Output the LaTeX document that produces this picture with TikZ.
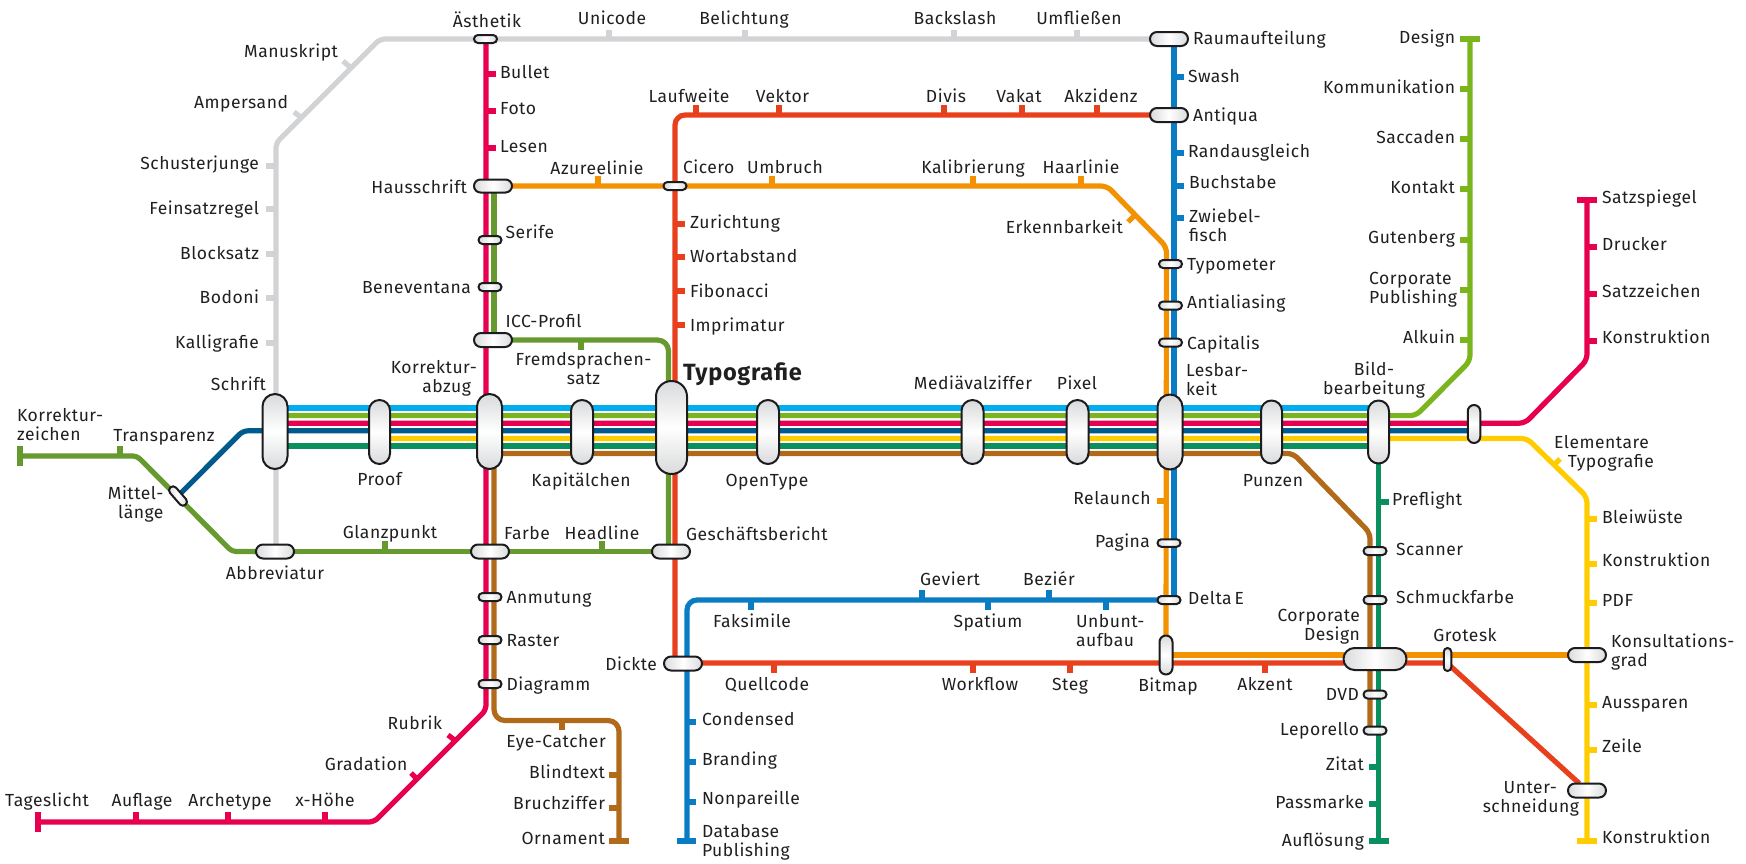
\documentclass[tikz,border=0pt]{standalone}
\usepackage{fontspec}
\setmainfont[LetterSpace=3.0]{Fira Sans}
\usetikzlibrary{backgrounds,calc}
\definecolor{cCy}{HTML}{00AEEF}
\definecolor{cLg}{HTML}{7AB51D}
\definecolor{cMa}{HTML}{E6004F}
\definecolor{cNa}{HTML}{005A8C}
\definecolor{cYe}{HTML}{FFCC00}
\definecolor{cTe}{HTML}{0A8F5F}
\definecolor{cBr}{HTML}{B06A1A}
\definecolor{cGy}{HTML}{D2D3D5}
\definecolor{cDg}{HTML}{66992E}
\definecolor{cRe}{HTML}{E8401C}
\definecolor{cOr}{HTML}{F39200}
\definecolor{cBl}{HTML}{0A7CC4}
\definecolor{cSt}{HTML}{1C1C20}
\definecolor{cSh}{HTML}{D9DADB}
\tikzset{
 ml/.style={line width=5.2pt,line join=round},
 lCy/.style={ml,draw=cCy},lLg/.style={ml,draw=cLg},lMa/.style={ml,draw=cMa},
 lNa/.style={ml,draw=cNa},lYe/.style={ml,draw=cYe},lTe/.style={ml,draw=cTe},
 lBr/.style={ml,draw=cBr},lGy/.style={ml,draw=cGy},lDg/.style={ml,draw=cDg},
 lRe/.style={ml,draw=cRe},lOr/.style={ml,draw=cOr},lBl/.style={ml,draw=cBl},
 stn/.style={draw=cSt,line width=2pt,inner sep=0pt,outer sep=0pt},
 lbl/.style={inner sep=0pt,outer sep=0pt,font=\fontsize{17.5}{19}\selectfont,text=black!88},
}
\newcounter{labc}
\newcommand{\LW}[3]{\stepcounter{labc}\node[lbl,anchor=base west] (lab\thelabc) at (#1,#2) {#3};}
\newcommand{\LE}[3]{\stepcounter{labc}\node[lbl,anchor=base east] (lab\thelabc) at (#1,#2) {#3};}
\newcommand{\LC}[3]{\stepcounter{labc}\node[lbl,anchor=base] (lab\thelabc) at (#1,#2) {#3};}
\newcommand{\MW}[3]{\stepcounter{labc}\node[lbl,anchor=west,align=left] (lab\thelabc) at (#1,#2) {#3};}
\newcommand{\ME}[3]{\stepcounter{labc}\node[lbl,anchor=east,align=right] (lab\thelabc) at (#1,#2) {#3};}
\newcommand{\MC}[3]{\stepcounter{labc}\node[lbl,anchor=center,align=center] (lab\thelabc) at (#1,#2) {#3};}
% station: name, cx, cy, outer w, outer h
\newcommand{\ST}[5]{%
 \pgfmathsetmacro{\stw}{#4-2}\pgfmathsetmacro{\sth}{#5-2}%
 \pgfmathsetmacro{\str}{min(\stw,\sth)/2-0.02}%
 \ifdim #4pt>#5pt
  \node[stn,minimum width=\stw pt,minimum height=\sth pt,rounded corners=\str pt,left color=cSh,right color=cSh,middle color=white] (#1) at (#2,#3) {};
 \else
  \node[stn,minimum width=\stw pt,minimum height=\sth pt,rounded corners=\str pt,top color=cSh,bottom color=cSh,middle color=white] (#1) at (#2,#3) {};
 \fi}
\newcommand{\TK}[5]{\draw[#1] (#2,#3) -- (#4,#5);}
\begin{document}
\begin{tikzpicture}[x=1pt,y=-1pt]
\useasboundingbox (0,0) rectangle (1746,863);
% ---------- stations
\ST{aes}{485.5}{39}{25}{10}
\ST{rau}{1169}{39}{40}{16}
\ST{ant}{1169}{115}{40}{16}
\ST{hau}{493}{186}{40}{15}
\ST{cic}{675}{186}{25}{10}
\ST{ser}{490}{240}{25}{10}
\ST{ben}{490}{287}{25}{10}
\ST{icc}{493}{340}{40}{16}
\ST{typo}{1170.5}{264}{25}{10}
\ST{ali}{1170.5}{305.5}{25}{10}
\ST{cap}{1170.5}{342.5}{25}{10}
\ST{sch}{275}{431.5}{27}{77}
\ST{prf}{379.5}{432}{23}{66}
\ST{kor}{489.5}{431.5}{27}{77}
\ST{kap}{582}{432}{24}{66}
\ST{tyg}{671.5}{427.5}{33}{95}
\ST{opt}{768}{432}{24}{66}
\ST{med}{972.5}{432}{24}{66}
\ST{pix}{1077.5}{432}{24}{66}
\ST{les}{1170}{432}{27}{77}
\ST{pun}{1271.5}{432}{23}{65}
\ST{bil}{1378.5}{432}{23}{65}
\ST{sma}{1474}{424}{14.5}{40}
\stepcounter{labc}\node[stn,minimum width=23pt,minimum height=8pt,rounded corners=3.9pt,rotate=-49,left color=cSh,right color=cSh,middle color=white] (mit) at (178,496) {};
\ST{abb}{275}{551.5}{40}{16}
\ST{far}{490}{551.5}{40}{16}
\ST{ges}{671}{551.5}{40}{16}
\ST{anm}{490}{597}{25}{10}
\ST{ras}{490}{640}{25}{10}
\ST{dia}{490}{684}{25}{10}
\ST{pag}{1169}{543}{25}{9.5}
\ST{del}{1169}{600}{25}{10}
\ST{dic}{683}{663.5}{40}{16}
\ST{bit}{1166}{655}{15}{41}
\ST{cor}{1375}{659}{65}{24}
\ST{gro}{1447.5}{659.5}{9.5}{25}
\ST{sca}{1375}{551}{25}{10}
\ST{smf}{1375}{600}{25}{10}
\ST{dvd}{1375}{694.5}{25}{10}
\ST{lep}{1375}{730.5}{25}{10}
\ST{kon}{1587}{655}{40}{16}
\ST{unt}{1587}{790.5}{40}{16}
% ---------- lines
\begin{scope}[on background layer]
\coordinate (yCy) at (0,408);\coordinate (yLg) at (0,415.6);\coordinate (yMa) at (0,423.2);
\coordinate (yNa) at (0,430.8);\coordinate (yYe) at (0,438.4);\coordinate (yTe) at (0,446);\coordinate (yBr) at (0,453.4);
% bundle
\draw[lCy] (sch |- yCy) -- (bil |- yCy);
\coordinate (g1) at (1416,415.6);\coordinate (g2) at (1470,361);\coordinate (g3) at (1470,39);
\draw[lLg,rounded corners=6pt] (sch |- yLg) -- (g1) -- (g2) -- (g3);
\coordinate (h1) at (1525,423.2);\coordinate (h2) at (1587,360);\coordinate (h3) at (1587,200);
\draw[lMa,rounded corners=6pt] (sch |- yMa) -- (h1) -- (h2) -- (h3);
\coordinate (n1) at (178,496);\coordinate (n2) at (243,430.8);
\draw[lNa,rounded corners=5pt] (mit) -- (n2) -- (sma |- yNa);
\coordinate (e1) at (1527,438.4);\coordinate (e2) at (1587,497);\coordinate (e3) at (1587,841);
\draw[lYe,rounded corners=6pt] (prf |- yYe) -- (e1) -- (e2) -- (e3);
\coordinate (t1) at (1378.5,841);
\draw[lTe] (sch |- yTe) -- (bil |- yTe);
\draw[lTe] (bil) -- (t1);
\coordinate (b1) at (1293,453.4);\coordinate (b2) at (1370,533);\coordinate (b3) at (1370,730);
\draw[lBr,rounded corners=6pt] (kor |- yBr) -- (b1) -- (b2) -- (b3);
% grey
\coordinate (a1) at (276,143);\coordinate (a2) at (380,39);
\draw[lGy,rounded corners=5pt] (abb.north -| a1) -- (a1) -- (a2) -- (rau);
% magenta left
\coordinate (m1) at (486,710);\coordinate (m2) at (374,822);\coordinate (m3) at (38,822);
\draw[lMa,rounded corners=5pt] (aes -| m1) -- (m1) -- (m2) -- (m3);
% dark green
\coordinate (d1) at (20,456);\coordinate (d2) at (137,456);\coordinate (d3) at (232,551.5);
\draw[lDg,rounded corners=4pt] (d1) -- (d2) -- (d3) -- (abb);
\draw[lDg] (abb) -- (far) -- (ges);
\coordinate (d4) at (668.5,340);\coordinate (d5) at (494,340);\coordinate (d6) at (494,186);
\draw[lDg,rounded corners=11pt] (ges -| d4) -- (d4) -- (d5);
\draw[lDg] (d5) -- (d6);
% brown lower
\coordinate (r1) at (494,720.5);\coordinate (r2) at (619,720.5);\coordinate (r3) at (619,841);
\draw[lBr,rounded corners=11pt] (kor -| r1) -- (r1) -- (r2) -- (r3);
% orange
\coordinate (o1) at (1107,186);\coordinate (o2) at (1166.5,247);
\draw[lOr,rounded corners=6pt] (hau) -- (o1) -- (o2) -- (bit.center);
\coordinate (o3) at (1166,655);
\draw[lOr] (o3) -- (kon);
% red
\coordinate (c1) at (675,115);\coordinate (c2) at (675,663);\coordinate (c3) at (1447,663);
\draw[lRe,rounded corners=10pt] (ant) -- (c1) -- (c2);
\draw[lRe] (c2) -- (c3) -- (unt);
% blue
\coordinate (f1) at (1174,600);\coordinate (f2) at (687,600);\coordinate (f3) at (687,841);
\draw[lBl] (rau -| f1) -- (f1);
\draw[lBl,rounded corners=10pt] (f1) -- (f2) -- (f3);
% end caps
\draw[lDg] ($(d1)+(0,-10)$) -- ($(d1)+(0,10)$);
\draw[lMa] ($(m3)+(0,-10)$) -- ($(m3)+(0,10)$);
\draw[lBr] ($(r3)+(-10,0)$) -- ($(r3)+(10,0)$);
\draw[lBl] ($(f3)+(-10,0)$) -- ($(f3)+(9,0)$);
\draw[lTe] ($(t1)+(-10,0)$) -- ($(t1)+(10,0)$);
\draw[lYe] ($(e3)+(-10,0)$) -- ($(e3)+(10,0)$);
\draw[lLg] ($(g3)+(-10,0)$) -- ($(g3)+(10,0)$);
\draw[lMa] ($(h3)+(-10,0)$) -- ($(h3)+(10,0)$);
% ticks grey
\foreach \y in {166,209,254,298,343} {\TK{lGy}{266}{\y}{276}{\y}}
\foreach \x in {609,745,954,1077} {\TK{lGy}{\x}{30}{\x}{39}}
\TK{lGy}{343}{61}{351}{68}
\TK{lGy}{294}{112}{302}{118}
% ticks magenta left
\foreach \y in {74,111,148} {\TK{lMa}{486}{\y}{496}{\y}}
\foreach \x in {136,228,325} {\TK{lMa}{\x}{812}{\x}{822}}
\TK{lMa}{448}{735}{457}{742}
\TK{lMa}{411}{773}{418}{780}
% dark green
\TK{lDg}{120}{446}{120}{456}
\TK{lDg}{385}{541}{385}{551}
\TK{lDg}{602}{541}{602}{551}
\TK{lDg}{581}{340}{581}{350}
% orange
\foreach \x in {598,772,973,1081} {\TK{lOr}{\x}{176}{\x}{186}}
\TK{lOr}{1128}{222}{1135}{215}
\TK{lOr}{1157}{501}{1166}{501}
% red
\foreach \x in {696,779,944,1022,1097} {\TK{lRe}{\x}{105}{\x}{115}}
\foreach \y in {224,257,291,325} {\TK{lRe}{675}{\y}{685}{\y}}
\foreach \x in {774,973,1070,1265} {\TK{lRe}{\x}{663}{\x}{673}}
% blue
\foreach \y in {77,153,186,218} {\TK{lBl}{1174}{\y}{1184}{\y}}
\foreach \x in {922,1049} {\TK{lBl}{\x}{590}{\x}{600}}
\foreach \x in {751,988,1106} {\TK{lBl}{\x}{600}{\x}{610}}
\foreach \y in {722,762,802} {\TK{lBl}{687}{\y}{696}{\y}}
% brown
\TK{lBr}{562}{720}{562}{730}
\foreach \y in {775,808} {\TK{lBr}{609}{\y}{619}{\y}}
% light green
\foreach \y in {89,139,189,240,290,340} {\TK{lLg}{1460}{\y}{1470}{\y}}
% magenta right
\foreach \y in {247,294,341} {\TK{lMa}{1587}{\y}{1597}{\y}}
% teal
\TK{lTe}{1378}{502}{1389}{502}
\foreach \y in {767,804} {\TK{lTe}{1369}{\y}{1378}{\y}}
% yellow
\foreach \y in {519,564,603,705,750} {\TK{lYe}{1587}{\y}{1597}{\y}}
\TK{lYe}{1553}{466}{1560}{459}
\end{scope}
% ---------- labels
\LC{487}{27}{Ästhetik}
\LC{612}{24}{Unicode}
\LC{744}{24}{Belichtung}
\LC{955}{24}{Backslash}
\LC{1079}{24}{Umfließen}
\LW{1193}{44}{Raumaufteilung}
\LE{338}{57}{Manuskript}
\LE{288}{108}{Ampersand}
\LE{259}{169}{Schusterjunge}
\LE{259}{214}{Feinsatzregel}
\LE{259}{259}{Blocksatz}
\LE{259}{303}{Bodoni}
\LE{259}{348}{Kalligrafie}
\LE{266}{390}{Schrift}
\MW{17}{425}{Korrektur-\\zeichen}
\LC{164}{441}{Transparenz}
\ME{163.5}{504}{Mittel-\\länge}
\LC{379.5}{485}{Proof}
\LC{275}{579}{Abbreviatur}
\LC{390}{538}{Glanzpunkt}
\LW{504}{539}{Farbe}
\LC{602}{539}{Headline}
\LW{686}{540}{Geschäftsbericht}
\LC{581}{486}{Kapitälchen}
\LC{767}{486}{OpenType}
\ME{477}{378}{Korrektur-\\abzug\hspace*{6pt}}
\LW{505.5}{327}{ICC-Profil}
\MC{583.5}{369}{Fremdsprachen-\\satz}
\stepcounter{labc}\node[lbl,anchor=base west,font=\fontsize{23.5}{25}\selectfont\bfseries] (lab\thelabc) at (683,380) {Typografie};
\LC{973}{389}{Mediävalziffer}
\LC{1077}{389}{Pixel}
\MW{1186}{380}{Lesbar-\\keit}
\MC{1374}{380}{Bild-\\bearbeitung}
\LC{1273}{486}{Punzen}
\LE{1150.5}{504}{Relaunch}
\LE{1150}{547}{Pagina}
\LW{1188}{604}{Delta\,E}
\LW{1392}{505}{Preflight}
\LW{1396}{555}{Scanner}
\LW{1396}{603}{Schmuckfarbe}
\ME{1360}{627}{Corporate\\Design}
\LC{1465}{641}{Grotesk}
\LC{1168}{691}{Bitmap}
\LC{1265}{690}{Akzent}
\LE{1359}{700}{DVD}
\LE{1359}{735}{Leporello}
\LE{1364}{770}{Zitat}
\LE{1364}{808}{Passmarke}
\LE{1364}{846}{Auflösung}
\MW{1611}{652}{Konsultations-\\grad}
\ME{1654}{453}{Elementare\hspace*{5pt}\\Typografie}
\LW{1602}{523}{Bleiwüste}
\LW{1602}{566}{Konstruktion}
\LW{1602}{606}{PDF}
\LW{1602}{708}{Aussparen}
\LW{1602}{752}{Zeile}
\LW{1602}{843}{Konstruktion}
\ME{1579}{798.5}{Unter-\hspace*{22pt}\\schneidung}
\LW{1602}{203}{Satzspiegel}
\LW{1602}{250}{Drucker}
\LW{1602}{297}{Satzzeichen}
\LW{1602}{343}{Konstruktion}
\LE{1455}{43}{Design}
\LE{1455}{93}{Kommunikation}
\LE{1455}{143}{Saccaden}
\LE{1455}{193}{Kontakt}
\LE{1455}{243}{Gutenberg}
\stepcounter{labc}\node[lbl,anchor=east,align=left] (lab\thelabc) at (1457,290) {Corporate\\Publishing};
\LE{1455}{343}{Alkuin}
\LC{689}{102}{Laufweite}
\LC{782.5}{102}{Vektor}
\LC{946}{102}{Divis}
\LC{1019}{102}{Vakat}
\LC{1101}{102}{Akzidenz}
\LW{683}{173}{Cicero}
\LC{785}{173}{Umbruch}
\LC{973}{173}{Kalibrierung}
\LC{1081}{173}{Haarlinie}
\LC{597}{174}{Azureelinie}
\LW{500}{78}{Bullet}
\LW{500}{114}{Foto}
\LW{500}{152}{Lesen}
\LE{467}{193}{Hausschrift}
\LW{505.5}{238}{Serife}
\LE{471}{293}{Beneventana}
\LW{506.5}{603}{Anmutung}
\LW{506.5}{646}{Raster}
\LW{506.5}{690}{Diagramm}
\LE{442}{729}{Rubrik}
\LE{407.5}{770}{Gradation}
\LC{47}{806}{Tageslicht}
\LC{142}{806}{Auflage}
\LC{230}{806}{Archetype}
\LC{325}{806}{x-Höhe}
\LC{556}{747}{Eye-Catcher}
\LE{605}{778}{Blindtext}
\LE{605}{809}{Bruchziffer}
\LE{605}{844}{Ornament}
\LW{690}{228}{Zurichtung}
\LW{690}{262}{Wortabstand}
\LW{690}{297}{Fibonacci}
\LW{690}{331}{Imprimatur}
\LE{1123}{233}{Erkennbarkeit}
\LW{1188}{82}{Swash}
\LW{1193}{121}{Antiqua}
\LW{1188}{157}{Randausgleich}
\LW{1189}{188}{Buchstabe}
\MW{1189}{225}{Zwiebel-\\fisch}
\LW{1187}{270}{Typometer}
\LW{1187}{308}{Antialiasing}
\LW{1187}{349}{Capitalis}
\LC{752}{627}{Faksimile}
\LC{988}{627}{Spatium}
\MW{1076}{630.5}{Unbunt-\\aufbau}
\LC{950}{585}{Geviert}
\LC{1049}{585}{Beziér}
\LC{767}{690}{Quellcode}
\LC{980}{690}{Workflow}
\LC{1070}{690}{Steg}
\LE{657}{670}{Dickte}
\LW{702}{725}{Condensed}
\LW{702}{765}{Branding}
\LW{702}{804}{Nonpareille}
\MW{702}{842}{Database\\Publishing}
\end{tikzpicture}
\end{document}
